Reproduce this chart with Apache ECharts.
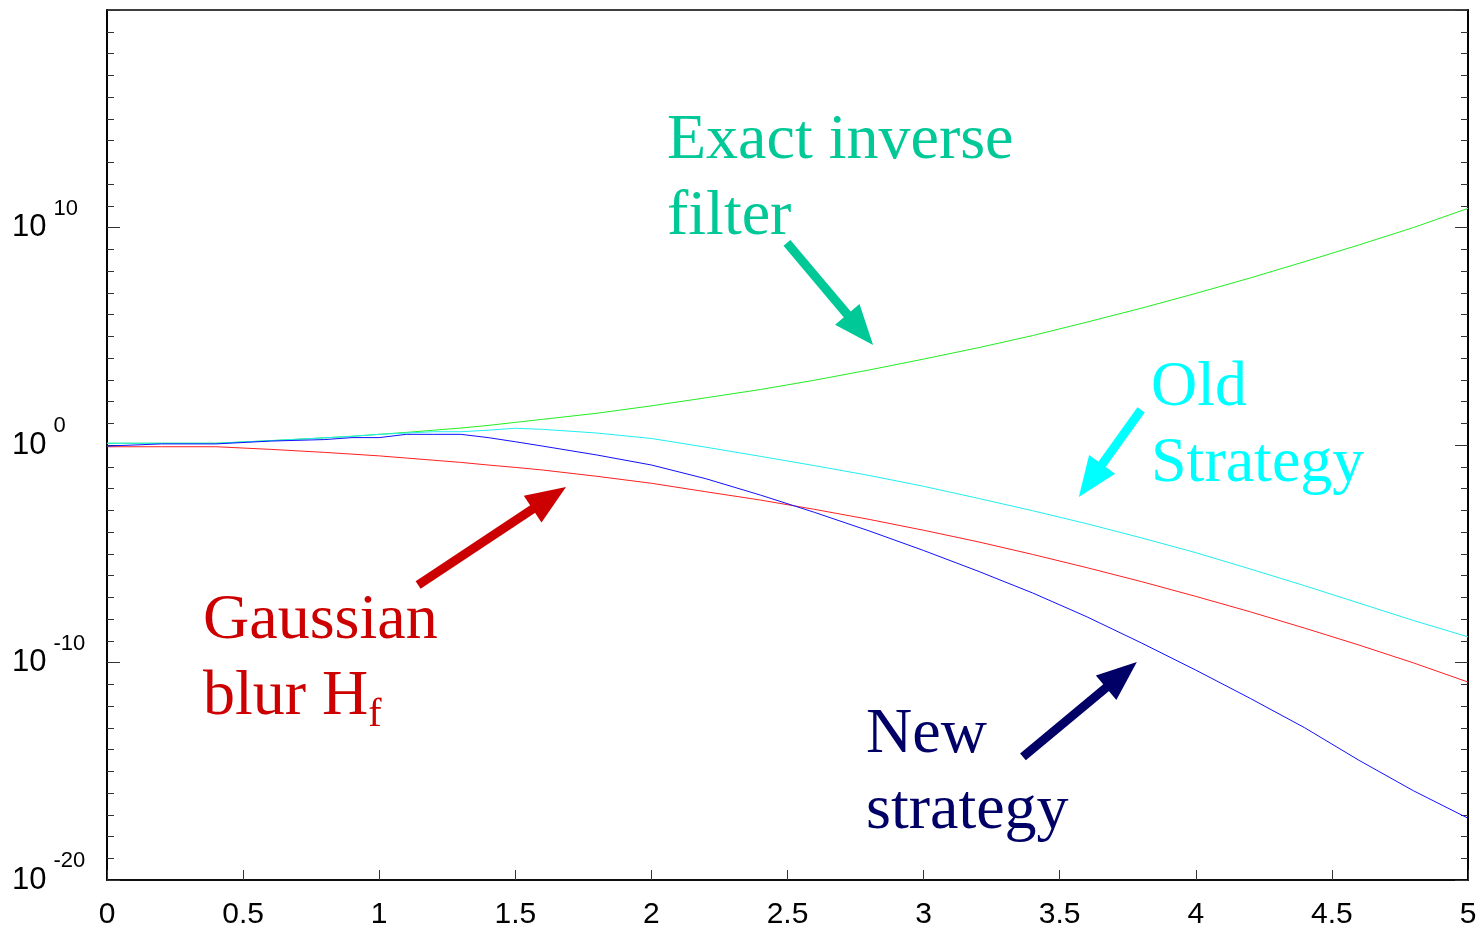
<!DOCTYPE html>
<html>
<head>
<meta charset="utf-8">
<script src="https://cdn.jsdelivr.net/npm/echarts@6/dist/echarts.min.js"></script>
<style>html,body{margin:0;padding:0;background:#fff}#c{width:1483px;height:932px}</style>
</head>
<body>
<div id="c"></div>
<script>
// x positions (frequency)
var xValues = [0,0.2,0.4,0.6,0.8,0.9,1.0,1.1,1.2,1.3,1.4,1.5,1.6,1.8,2.0,2.2,2.4,2.6,2.8,3.0,3.2,3.4,3.6,3.8,4.0,4.2,4.4,4.6,4.8,5.0];
// log10 of each curve's value
var exactInverseLog = [0.08,0.08,0.08,0.2,0.33,0.4,0.49,0.58,0.68,0.78,0.9,1.04,1.18,1.46,1.8,2.17,2.55,2.98,3.45,3.95,4.47,5.03,5.65,6.29,6.97,7.68,8.43,9.2,10.0,10.88];
var gaussianLog = [-0.08,-0.08,-0.08,-0.2,-0.34,-0.42,-0.5,-0.6,-0.7,-0.8,-0.92,-1.03,-1.15,-1.44,-1.76,-2.15,-2.53,-2.96,-3.42,-3.92,-4.45,-5.03,-5.64,-6.28,-6.96,-7.67,-8.42,-9.2,-10.02,-10.9];
var oldStrategyLog = [0.08,0.08,0.08,0.2,0.33,0.4,0.49,0.55,0.61,0.61,0.68,0.77,0.72,0.55,0.3,-0.1,-0.52,-0.95,-1.4,-1.9,-2.45,-3.02,-3.62,-4.27,-4.95,-5.7,-6.47,-7.27,-8.07,-8.82];
var newStrategyLog = [-0.05,0.05,0.05,0.18,0.25,0.34,0.34,0.49,0.49,0.49,0.34,0.15,-0.05,-0.46,-0.92,-1.55,-2.3,-3.1,-3.95,-4.85,-5.8,-6.8,-7.9,-9.1,-10.35,-11.65,-13.0,-14.5,-15.9,-17.16];
var xTicks = [0,0.5,1,1.5,2,2.5,3,3.5,4,4.5,5];
var yLabelExponents = [-20,-10,0,10];
var yMinorTickExponents = [];
for (var k = -20; k <= 20; k++) yMinorTickExponents.push(k);

function toData(logs){ return xValues.map(function(x,i){ return [x, Math.pow(10, logs[i])]; }); }

// annotation arrows: [xStart, log10 yStart, xEnd, log10 yEnd, colour]
var arrows = [
  [2.498, 9.29, 2.767, 5.30, '#00c896'],
  [3.799, 1.61, 3.613, -1.64, '#00ffff'],
  [1.143, -6.44, 1.625, -2.44, '#cc0000'],
  [3.365, -14.34, 3.727, -10.57, '#000066']
];

var chart = echarts.init(document.getElementById('c'), null, {renderer:'canvas'});
var numFont = '"Liberation Sans Narrow","Arial Narrow","Liberation Sans",Arial,sans-serif';
var serif = '"Liberation Serif","Times New Roman",serif';

function minorAxis(pos){
  return {
    type:'log', logBase:10, min:1e-20, max:1e20, position:pos,
    axisLine:{show:true, lineStyle:{color:'#000', width:1.5}},
    axisTick:{show:true, inside:true, length:7, lineStyle:{color:'#333', width:1},
      customValues: yMinorTickExponents.map(function(e){ return Math.pow(10, e); })},
    splitLine:{show:false},
    axisLabel:{show:false}
  };
}
function majorAxis(pos, withLabels){
  return {
    type:'log', logBase:10, min:1e-20, max:1e20, position:pos,
    axisLine:{show:true, lineStyle:{color:'#000', width:1.5}},
    axisTick:{show:true, inside:true, length:13, lineStyle:{color:'#333', width:1}},
    splitLine:{show:false},
    axisLabel:{
      show:withLabels, align:'left', margin:95,
      formatter:function(v){
        var e = Math.round(Math.log(v)/Math.LN10);
        if (yLabelExponents.indexOf(e) < 0) return '';
        return '{b|10}{s|' + e + '}';
      },
      rich:{
        b:{fontFamily:numFont, fontSize:31, color:'#000', lineHeight:60},
        s:{fontFamily:numFont, fontSize:22, color:'#000', lineHeight:16, verticalAlign:'top', padding:[0,0,0,7]}
      }
    }
  };
}

var series = [
  {name:'Exact inverse filter', data:toData(exactInverseLog), color:'#22ee22'},
  {name:'Old Strategy', data:toData(oldStrategyLog), color:'#22eeee'},
  {name:'Gaussian blur', data:toData(gaussianLog), color:'#ff2020'},
  {name:'New strategy', data:toData(newStrategyLog), color:'#1010ff'}
].map(function(s){
  return {type:'line', name:s.name, data:s.data, showSymbol:false, symbol:'none',
    lineStyle:{color:s.color, width:1}, itemStyle:{color:s.color}, z:3, animation:false};
});

series.push({
  type:'line', data:[], silent:true, animation:false,
  markLine:{
    silent:true, animation:false, symbol:['none','triangle'], symbolSize:[32,40],
    label:{show:false},
    data: arrows.map(function(a){
      return [{coord:[a[0], Math.pow(10,a[1])], lineStyle:{color:a[4], width:9, type:'solid'}, itemStyle:{color:a[4]}},
              {coord:[a[2], Math.pow(10,a[3])], lineStyle:{color:a[4], width:9, type:'solid'}, itemStyle:{color:a[4]}}];
    })
  }
});

chart.setOption({
  backgroundColor:'#fff',
  animation:false,
  grid:{left:107, right:15, top:10, bottom:52, show:true, borderColor:'#000', borderWidth:1.5, backgroundColor:'transparent'},
  xAxis:{
    type:'value', min:0, max:5, interval:0.5,
    axisLine:{show:true, onZero:false, lineStyle:{color:'#000', width:1.5}},
    axisTick:{show:true, inside:true, length:10, lineStyle:{color:'#333', width:1}},
    splitLine:{show:false},
    axisLabel:{fontFamily:numFont, fontSize:30, color:'#000', margin:20,
      formatter:function(v){ return xTicks.indexOf(v) >= 0 ? String(v) : ''; }}
  },
  yAxis:[minorAxis('left'), minorAxis('right'), majorAxis('left', true), majorAxis('right', false)],
  series: series.map(function(s){ s.yAxisIndex = 2; return s; }),
  graphic:[
    {type:'text', left:667, top:103, z:10, style:{text:'Exact inverse\nfilter', font:'64px ' + serif, fill:'#00c896', lineHeight:76}},
    {type:'text', left:1151, top:350, z:10, style:{text:'Old\nStrategy', font:'64px ' + serif, fill:'#00ffff', lineHeight:76}},
    {type:'text', left:203, top:589, z:10, style:{text:'{m|Gaussian}\n{m|blur H}{s|f}', rich:{
      m:{fontFamily:serif, fontSize:64, fill:'#cc0000', lineHeight:76},
      s:{fontFamily:serif, fontSize:40, fill:'#cc0000', lineHeight:32, verticalAlign:'bottom'}}}},
    {type:'text', left:866, top:697, z:10, style:{text:'New\nstrategy', font:'64px ' + serif, fill:'#000066', lineHeight:76}}
  ]
});
</script>
</body>
</html>
